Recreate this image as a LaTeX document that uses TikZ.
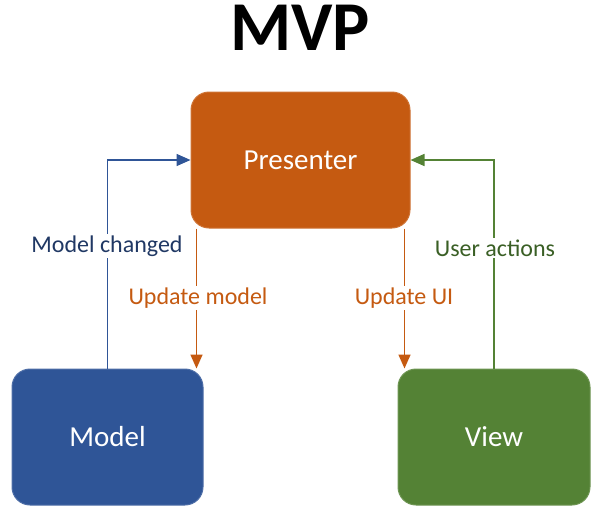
\documentclass[tikz,border=0pt]{standalone}
\usepackage{fontspec}
\setmainfont{Carlito}
\usetikzlibrary{arrows.meta}
\definecolor{porange}{HTML}{C55A11}
\definecolor{mblue}{HTML}{2F5597}
\definecolor{vgreen}{HTML}{548235}
\definecolor{lblue}{HTML}{203864}
\definecolor{lgreen}{HTML}{3A5F25}
\tikzset{
  box/.style={rounded corners=18pt, inner sep=0pt, text=white, font=\fontsize{29}{33}\selectfont, draw=#1!85!white, line width=1pt, fill=#1},
  conn/.style={line width=1.6pt, draw=#1, -{Triangle[length=14pt,width=12pt]}},
  lbl/.style={fill=white, inner sep=2pt, text=#1, font=\fontsize{24}{28}\selectfont},
}
\begin{document}
\begin{tikzpicture}[x=1pt,y=-1pt]
\useasboundingbox (0,0) rectangle (599,514);
\node[inner sep=0pt, anchor=base, font=\bfseries\fontsize{70}{74}\selectfont] (title) at (300,50) {MVP};
\node[box=porange, minimum width=219pt, minimum height=136pt] (P) at (300.5,160) {Presenter};
\node[box=mblue, minimum width=191pt, minimum height=136pt] (M) at (107.5,437) {Model};
\node[box=vgreen, minimum width=192pt, minimum height=136pt] (V) at (494,437) {View};
\coordinate (pm) at ([xshift=6pt]P.south west);
\coordinate (pv) at ([xshift=-6pt]P.south east);
\draw[conn=mblue] (M.north) |- (P.west);
\draw[conn=vgreen] (V.north) |- (P.east);
\draw[conn=porange] (pm) -- (pm |- M.north);
\draw[conn=porange] (pv) -- (pv |- V.north);
\node[lbl=lblue] (lmc) at (107,246) {Model changed};
\node[lbl=porange] (lum) at (198,298) {Update model};
\node[lbl=porange] (lui) at (404,298) {Update UI};
\node[lbl=lgreen] (lua) at (495,248) {User actions};
\end{tikzpicture}
\end{document}
